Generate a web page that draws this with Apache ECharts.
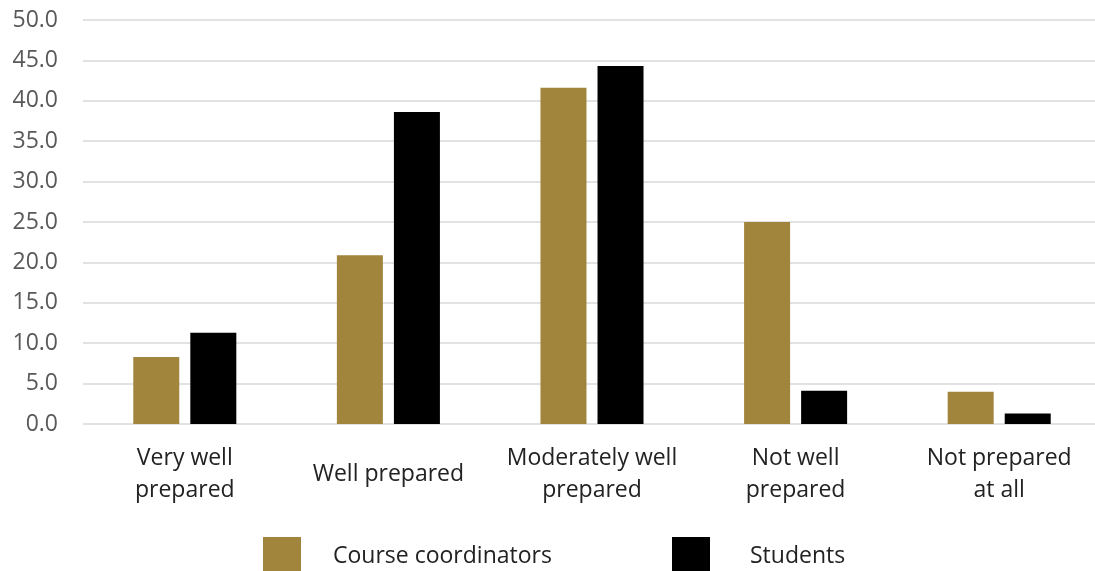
<!DOCTYPE html>
<html>
<head>
<meta charset="utf-8">
<script src="https://cdn.jsdelivr.net/npm/echarts@6/dist/echarts.min.js"></script>
<style>
html,body{margin:0;padding:0;background:#fff;}
#chart{width:1095px;height:571px;}
</style>
</head>
<body>
<div id="chart"></div>
<script>
const categories = ["Very well\nprepared", "Well prepared", "Moderately well\nprepared", "Not well\nprepared", "Not prepared\nat all"];
const coordinators = [8.3, 20.9, 41.6, 25.0, 4.0];
const students = [11.3, 38.6, 44.3, 4.1, 1.3];
const seriesNames = ["Course coordinators", "Students"];

const FONT = "Open Sans";
const legendText1 = {fontFamily: FONT, fontSize: 23, color: '#222', padding: [0, 0, 0, 27]};
const legendText2 = {fontFamily: FONT, fontSize: 23, color: '#222', padding: [0, 0, 0, 35]};
const chart = echarts.init(document.getElementById('chart'), null, {renderer: 'canvas'});
chart.setOption({
  animation: false,
  backgroundColor: '#fff',
  grid: {left: 83, top: 20, height: 404, width: 1018, containLabel: false, outerBoundsMode: 'none'},
  legend: [
    {data: [seriesNames[0]], left: 263, top: 537, padding: 0,
     itemWidth: 38, itemHeight: 38, icon: 'rect', textStyle: legendText1},
    {data: [seriesNames[1]], left: 672, top: 537, padding: 0,
     itemWidth: 38, itemHeight: 38, icon: 'rect', textStyle: legendText2}
  ],
  xAxis: {
    type: 'category',
    data: categories,
    axisLine: {show: false},
    axisTick: {show: false},
    axisLabel: {
      margin: 18,
      interval: 0,
      formatter: function (v) {
        if (v.indexOf('\n') >= 0) return v.split('\n').map(s => '{a|' + s + '}').join('\n');
        return '{b|' + v + '}';
      },
      rich: {
        a: {fontFamily: FONT, fontSize: 23, color: '#222', lineHeight: 32},
        b: {fontFamily: FONT, fontSize: 23, color: '#222', lineHeight: 64}
      }
    }
  },
  yAxis: {
    type: 'value',
    min: 0, max: 50, interval: 5,
    axisLine: {show: false},
    axisTick: {show: false},
    splitLine: {lineStyle: {color: '#d9d9d9', width: 1.5}},
    axisLabel: {
      margin: 25,
      fontFamily: FONT, fontSize: 23, color: '#595959',
      formatter: v => v.toFixed(1)
    }
  },
  series: [
    {name: seriesNames[0], type: 'bar', data: coordinators, barWidth: 46, barGap: '24%',
     itemStyle: {color: '#A2853D'}},
    {name: seriesNames[1], type: 'bar', data: students, barWidth: 46, barGap: '24%',
     itemStyle: {color: '#000000'}}
  ]
});
</script>
</body>
</html>
